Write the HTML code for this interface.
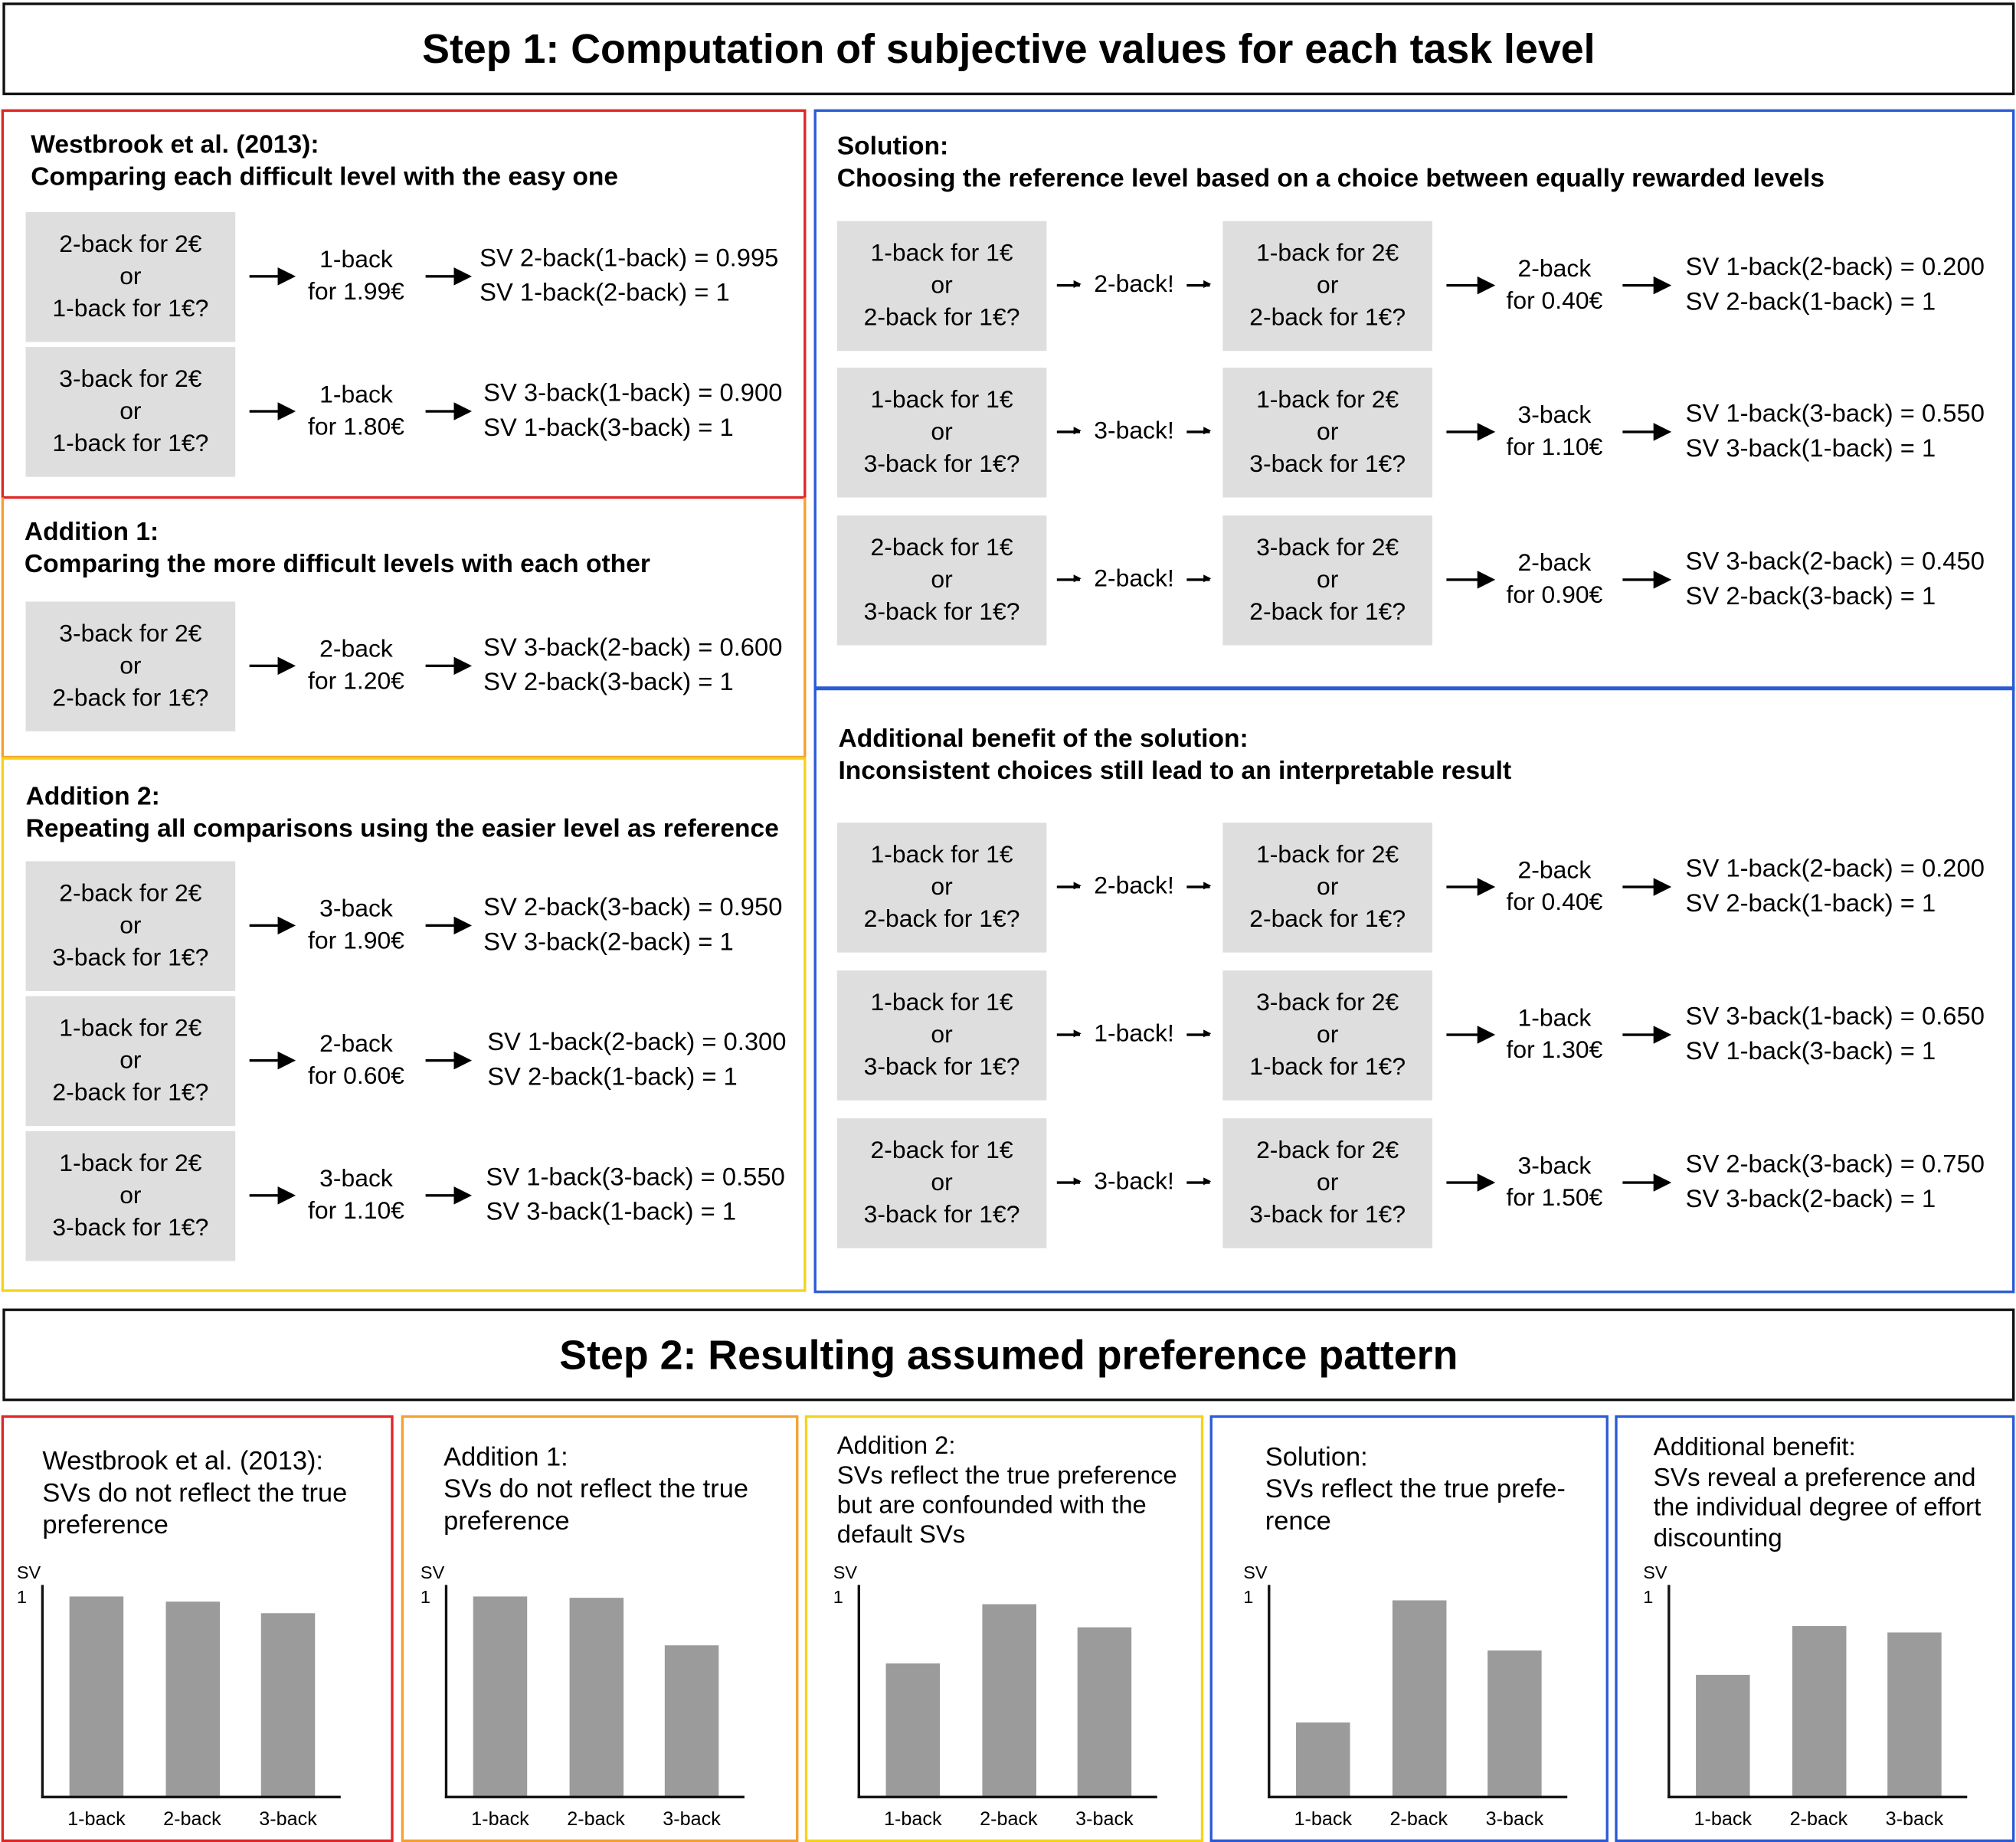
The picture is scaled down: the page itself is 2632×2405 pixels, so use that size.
<!DOCTYPE html>
<html><head><meta charset="utf-8">
<style>
html,body{margin:0;padding:0;background:#fff;}
body{width:2632px;height:2405px;overflow:hidden;position:relative;}
#c{position:absolute;left:0;top:0;width:1568px;height:1433px;transform:scale(1.6786,1.6783);transform-origin:0 0;font-family:"Liberation Sans",sans-serif;color:#000;}
#c div{position:absolute;box-sizing:border-box;}
.hdr{border:2px solid #111;text-align:center;font-weight:bold;font-size:32px;}
.box{border:2px solid;}
.t{font-size:20px;font-weight:bold;line-height:25px;white-space:nowrap;}
.g{background:#dedede;text-align:center;font-size:19px;line-height:25px;display:flex;align-items:center;justify-content:center;}
.c{text-align:center;font-size:19px;line-height:25px;white-space:nowrap;}
.s{font-size:19.5px;line-height:27px;white-space:nowrap;}
.ar{height:2px;background:#000;}
.ar::after{content:"";position:absolute;right:-2px;top:-6px;border-left:14px solid #000;border-top:7px solid transparent;border-bottom:7px solid transparent;}
.sa{height:1.5px;background:#000;}
.sa::after{content:"";position:absolute;right:-1px;top:-3px;border-left:6px solid #000;border-top:3.5px solid transparent;border-bottom:3.5px solid transparent;}
.pt{font-size:20.5px;line-height:25px;white-space:nowrap;}
.bar{background:#9b9b9b;}
.ax{background:#111;}
.lab{font-size:15px;text-align:center;width:60px;}
</style></head><body>
<div id="c">
<div class="hdr" style="left:2px;top:2px;width:1565px;height:72px;line-height:68px;">Step 1: Computation of subjective values for each task level</div>
<div class="box" style="left:1px;top:85px;width:626px;height:303px;border-color:#e02626;"></div>
<div class="box" style="left:1px;top:387px;width:626px;height:203px;border-color:#f5a030;border-top:none;"></div>
<div class="box" style="left:1px;top:589px;width:626px;height:416px;border-color:#f5d31a;"></div>
<div class="box" style="left:633px;top:85px;width:934px;height:452px;border-color:#2b5bd7;"></div>
<div class="box" style="left:633px;top:534px;width:934px;height:472px;border-color:#2b5bd7;"></div>

<div class="t" style="left:24px;top:101px;">Westbrook et al. (2013):<br>Comparing each difficult level with the easy one</div>
<div class="t" style="left:19px;top:402px;">Addition 1:<br>Comparing the more difficult levels with each other</div>
<div class="t" style="left:20px;top:608px;">Addition 2:<br>Repeating all comparisons using the easier level as reference</div>
<div class="t" style="left:651px;top:102px;">Solution:<br>Choosing the reference level based on a choice between equally rewarded levels</div>
<div class="t" style="left:652px;top:563px;">Additional benefit of the solution:<br>Inconsistent choices still lead to an interpretable result</div>

<div class="hdr" style="left:2px;top:1018px;width:1565px;height:72px;line-height:68px;">Step 2: Resulting assumed preference pattern</div>
<div class="box" style="left:1px;top:1101px;width:305px;height:332px;border-color:#e02626;"></div>
<div class="box" style="left:312px;top:1101px;width:309px;height:332px;border-color:#f5a030;"></div>
<div class="box" style="left:626px;top:1101px;width:310px;height:332px;border-color:#f5d31a;"></div>
<div class="box" style="left:941px;top:1101px;width:310px;height:332px;border-color:#2b5bd7;"></div>
<div class="box" style="left:1256px;top:1101px;width:311px;height:332px;border-color:#2b5bd7;"></div>
<div class="pt" style="left:33px;top:1124px;">Westbrook et al. (2013):<br>SVs do not reflect the true<br>preference</div>
<div class="pt" style="left:345px;top:1121px;">Addition 1:<br>SVs do not reflect the true<br>preference</div>
<div class="pt" style="left:651px;top:1114px;font-size:19.5px;line-height:23px;">Addition 2:<br>SVs reflect the true preference<br>but are confounded with the<br>default SVs</div>
<div class="pt" style="left:984px;top:1121px;">Solution:<br>SVs reflect the true prefe-<br>rence</div>
<div class="pt" style="left:1286px;top:1115px;font-size:19.8px;line-height:23.5px;">Additional benefit:<br>SVs reveal a preference and<br>the individual degree of effort<br>discounting</div>
</div>
<script>
var C=document.getElementById('c');
function mk(cls,name,l,t,w,h,html){
 var e=document.createElement('div');
 e.className=cls;
 
 
 e.style.left=l+'px';e.style.top=t+'px';
 if(w!=null)e.style.width=w+'px';
 if(h!=null)e.style.height=h+'px';
 if(html!=null)e.innerHTML=html;
 C.appendChild(e);return e;
}
var leftRows=[
[165,'2-back for 2€<br>or<br>1-back for 1€?','1-back<br>for 1.99€','SV 2-back(1-back) = 0.995<br>SV 1-back(2-back) = 1',373],
[270,'3-back for 2€<br>or<br>1-back for 1€?','1-back<br>for 1.80€','SV 3-back(1-back) = 0.900<br>SV 1-back(3-back) = 1',376],
[468,'3-back for 2€<br>or<br>2-back for 1€?','2-back<br>for 1.20€','SV 3-back(2-back) = 0.600<br>SV 2-back(3-back) = 1',376],
[670,'2-back for 2€<br>or<br>3-back for 1€?','3-back<br>for 1.90€','SV 2-back(3-back) = 0.950<br>SV 3-back(2-back) = 1',376],
[775,'1-back for 2€<br>or<br>2-back for 1€?','2-back<br>for 0.60€','SV 1-back(2-back) = 0.300<br>SV 2-back(1-back) = 1',379],
[880,'1-back for 2€<br>or<br>3-back for 1€?','3-back<br>for 1.10€','SV 1-back(3-back) = 0.550<br>SV 3-back(1-back) = 1',378]];
leftRows.forEach(function(r,i){
 var y=r[0],cy=y+50;
 mk('g','left-question-'+i,20,y,163,101,r[1]);
 mk('ar','left-arrow-a-'+i,194,cy-1,34,null);
 mk('c','left-result-'+i,237,cy-25,80,null,r[2]);
 mk('ar','left-arrow-b-'+i,331,cy-1,34,null);
 mk('s','left-sv-'+i,r[4],cy-27,null,null,r[3]);
});
var rightRows=[
[172,'1-back for 1€<br>or<br>2-back for 1€?','2-back!','1-back for 2€<br>or<br>2-back for 1€?','2-back<br>for 0.40€','SV 1-back(2-back) = 0.200<br>SV 2-back(1-back) = 1'],
[286,'1-back for 1€<br>or<br>3-back for 1€?','3-back!','1-back for 2€<br>or<br>3-back for 1€?','3-back<br>for 1.10€','SV 1-back(3-back) = 0.550<br>SV 3-back(1-back) = 1'],
[401,'2-back for 1€<br>or<br>3-back for 1€?','2-back!','3-back for 2€<br>or<br>2-back for 1€?','2-back<br>for 0.90€','SV 3-back(2-back) = 0.450<br>SV 2-back(3-back) = 1'],
[640,'1-back for 1€<br>or<br>2-back for 1€?','2-back!','1-back for 2€<br>or<br>2-back for 1€?','2-back<br>for 0.40€','SV 1-back(2-back) = 0.200<br>SV 2-back(1-back) = 1'],
[755,'1-back for 1€<br>or<br>3-back for 1€?','1-back!','3-back for 2€<br>or<br>1-back for 1€?','1-back<br>for 1.30€','SV 3-back(1-back) = 0.650<br>SV 1-back(3-back) = 1'],
[870,'2-back for 1€<br>or<br>3-back for 1€?','3-back!','2-back for 2€<br>or<br>3-back for 1€?','3-back<br>for 1.50€','SV 2-back(3-back) = 0.750<br>SV 3-back(2-back) = 1']];
rightRows.forEach(function(r,i){
 var y=r[0],cy=y+50;
 mk('g','right-question-'+i,651,y,163,101,r[1]);
 mk('sa','right-small-arrow-a-'+i,822,cy-1,18,null);
 mk('c','right-choice-'+i,842,cy-13,80,null,r[2]);
 mk('sa','right-small-arrow-b-'+i,923,cy-1,18,null);
 mk('g','right-question2-'+i,951,y,163,101,r[3]);
 mk('ar','right-arrow-a-'+i,1125,cy-1,36,null);
 mk('c','right-result-'+i,1168,cy-25,82,null,r[4]);
 mk('ar','right-arrow-b-'+i,1262,cy-1,36,null);
 mk('s','right-sv-'+i,1311,cy-27,null,null,r[5]);
});

var categories=['1-back','2-back','3-back'];
var p1Values=[1.0,0.975,0.917];
var p2Values=[1.0,0.992,0.756];
var p3Values=[0.667,0.962,0.846];
var p4Values=[0.372,0.981,0.731];
var p5Values=[0.609,0.853,0.821];
var panels=[[33,p1Values],[347,p2Values],[668,p3Values],[987,p4Values],[1298,p5Values]];
var baseY=1398,oneY=1242;
function yScale(v){return baseY-(baseY-oneY)*v;}
function xScale(ax,i){return ax+21+i*74.5;}
panels.forEach(function(p,k){
 var ax=p[0],vals=p[1];
 vals.forEach(function(v,i){
  var x=xScale(ax,i),t=yScale(v);
  var b=document.createElement('div');
  b.className='bar';
  
  
  b.style.left=x+'px';b.style.top=t+'px';b.style.width='42px';b.style.height=(baseY-t)+'px';
  C.appendChild(b);
  var l=document.createElement('div');
  l.className='lab';
  
  
  l.style.left=(x-9)+'px';l.style.top='1407px';
  l.textContent=categories[i];
  C.appendChild(l);
 });
 mk('ax','y-axis-p'+(k+1),ax-1,1233,2,baseY-1233+1);
 mk('ax','x-axis-p'+(k+1),ax-1,baseY-1,233,2);
 mk('lab','y-axis-title-p'+(k+1),ax-50,1215,null,null,'SV').style.cssText+='font-size:14px;width:auto;left:'+(ax-20)+'px;';
 mk('lab','y-tick-1-p'+(k+1),ax-20,1234,null,null,'1').style.cssText+='font-size:14px;width:auto;';
});
</script>
</body></html>
